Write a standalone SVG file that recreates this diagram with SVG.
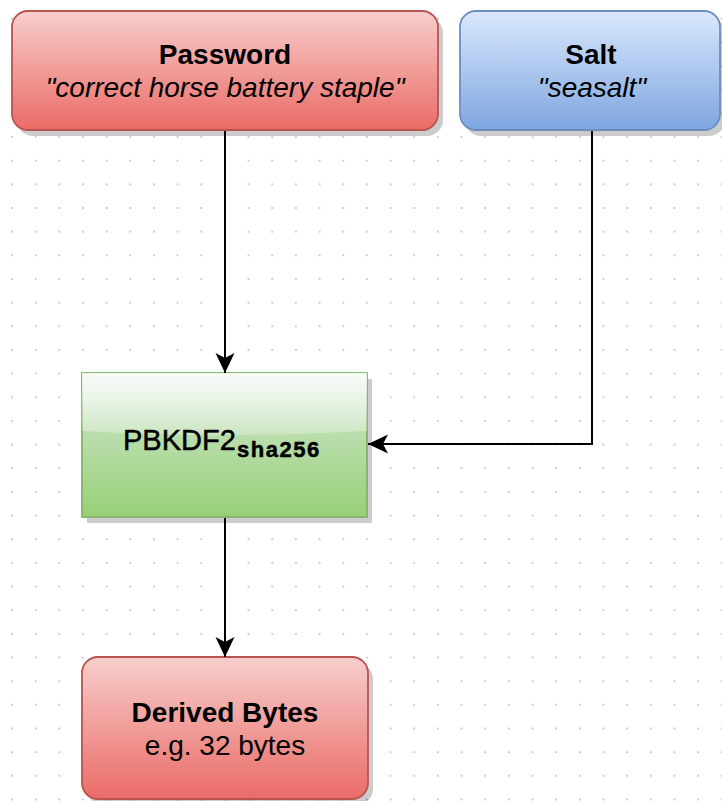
<svg xmlns="http://www.w3.org/2000/svg" width="722" height="801" viewBox="0 0 722 801">
  <defs>
    <pattern id="grid" x="0.17" y="6.87" width="23.66" height="23.66" patternUnits="userSpaceOnUse">
      <circle cx="11.83" cy="11.83" r="1.1" fill="#c4c4c4"/>
    </pattern>
    <linearGradient id="gRed" x1="0" y1="0" x2="0" y2="1">
      <stop offset="0" stop-color="#f8cecc"/>
      <stop offset="1" stop-color="#ea6b66"/>
    </linearGradient>
    <linearGradient id="gBlue" x1="0" y1="0" x2="0" y2="1">
      <stop offset="0" stop-color="#dae8fc"/>
      <stop offset="1" stop-color="#7ea6e0"/>
    </linearGradient>
    <linearGradient id="gGreen" x1="0" y1="0" x2="0" y2="1">
      <stop offset="0" stop-color="#d5e8d4"/>
      <stop offset="1" stop-color="#97d077"/>
    </linearGradient>
    <linearGradient id="gGlass" x1="0" y1="0" x2="0" y2="1">
      <stop offset="0" stop-color="#ffffff" stop-opacity="0.85"/>
      <stop offset="1" stop-color="#ffffff" stop-opacity="0.25"/>
    </linearGradient>
    <marker id="arrow" viewBox="0 0 20 20" refX="20" refY="10" markerWidth="20" markerHeight="20" markerUnits="userSpaceOnUse" orient="auto">
      <path d="M20,10 L0,0.5 L5,10 L0,19.5 Z" fill="#000"/>
    </marker>
    <style>
      .shadow { fill: #000; fill-opacity: 0.2; }
      .t { font-family: "Liberation Sans", Arial, sans-serif; font-size: 28px; fill: #000; text-anchor: middle; }
      .b { font-weight: bold; }
      .i { font-style: italic; }
      .edge { fill: none; stroke: #000; stroke-width: 2; marker-end: url(#arrow); }
    </style>
  </defs>

  <rect x="0" y="0" width="722" height="801" fill="#ffffff"/>
  <rect x="0" y="0" width="722" height="801" fill="url(#grid)"/>

  <g id="password">
    <rect class="shadow" x="17" y="17" width="426" height="119" rx="16"/>
    <rect x="12" y="11" width="426" height="119" rx="16" fill="url(#gRed)" stroke="#b85450" stroke-width="1.8"/>
    <text class="t b" x="225" y="64">Password</text>
    <text class="t i" x="225" y="97">"correct horse battery staple"</text>
  </g>

  <g id="salt">
    <rect class="shadow" x="465" y="17" width="260" height="119" rx="16"/>
    <rect x="460" y="11" width="260" height="119" rx="16" fill="url(#gBlue)" stroke="#6c8ebf" stroke-width="1.8"/>
    <text class="t b" x="591" y="64">Salt</text>
    <text class="t i" x="592" y="97">"seasalt"</text>
  </g>

  <g id="pbkdf2">
    <rect class="shadow" x="87" y="379" width="285" height="144"/>
    <rect x="82" y="373" width="285" height="144" fill="url(#gGreen)" stroke="#82b366" stroke-width="1.8"/>
    <path d="M82,373 H367 V431 Q224.5,439 82,431 Z" fill="url(#gGlass)"/>
    <text style="font-family: 'Liberation Sans', Arial, sans-serif; fill:#000; stroke:#000; stroke-width:0.5"><tspan x="123" y="450" font-size="29">PBKDF2</tspan><tspan x="237" y="457" font-size="22" font-weight="bold" letter-spacing="1.5">sha256</tspan></text>
  </g>

  <g id="derived">
    <rect class="shadow" x="87" y="663" width="286" height="142" rx="16"/>
    <rect x="82" y="657" width="286" height="142" rx="16" fill="url(#gRed)" stroke="#b85450" stroke-width="1.8"/>
    <text class="t b" x="225" y="722">Derived Bytes</text>
    <text class="t" x="225" y="755">e.g. 32 bytes</text>
  </g>

  <g id="connectors">
    <path class="edge" d="M225,131 V373"/>
    <path class="edge" d="M592,131 V444 H368"/>
    <path class="edge" d="M225,518 V657"/>
  </g>
</svg>
